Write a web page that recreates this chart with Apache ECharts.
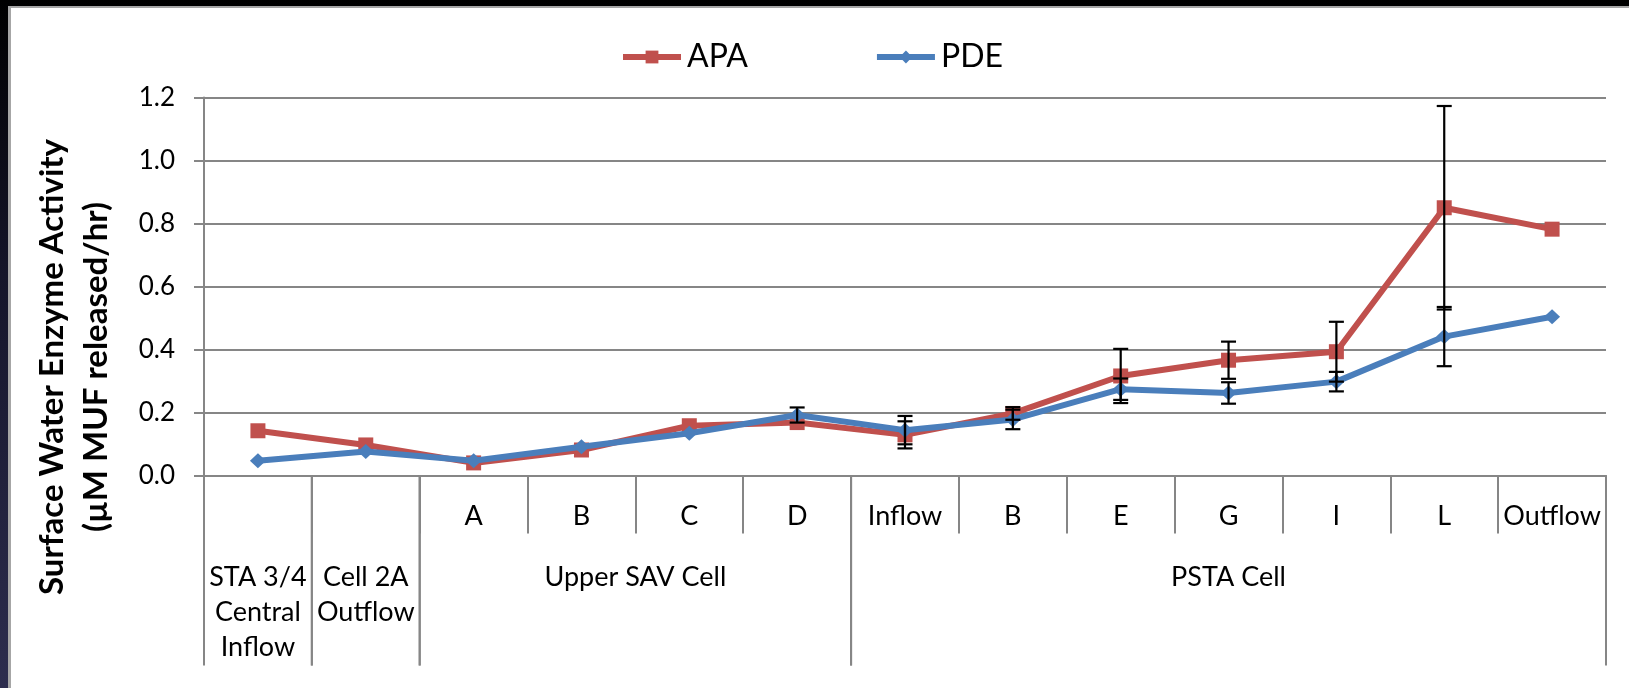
<!DOCTYPE html>
<html>
<head>
<meta charset="utf-8">
<script src="https://cdn.jsdelivr.net/npm/echarts@6/dist/echarts.min.js"></script>
<style>
  html, body { margin: 0; padding: 0; }
  body {
    width: 1629px; height: 688px; overflow: hidden; position: relative;
    background: linear-gradient(to bottom, #000000 0%, #15152a 40%, #2d2d4e 100%);
  }
  #chart {
    position: absolute; left: 8px; top: 6px;
    width: 1618px; height: 680px;
    background: #ffffff;
    border-left: 3px solid #a6a6a6;
    border-top: 2px solid #a6a6a6;
  }
</style>
</head>
<body>
<div id="chart"></div>
<script>
// Sampling sites along the flow path (first row of the axis table)
const categories = ['', '', 'A', 'B', 'C', 'D', 'Inflow', 'B', 'E', 'G', 'I', 'L', 'Outflow'];

// Second row of the axis table: group name and the first/last site index it spans
const groupNames = ['STA 3/4\nCentral\nInflow', 'Cell 2A\nOutflow', 'Upper SAV Cell', 'PSTA Cell'];
const groupStart = [0, 1, 2, 6];
const groupEnd = [0, 1, 5, 12];

// Enzyme activity (µM MUF released/hr)
const apa = [0.142, 0.097, 0.040, 0.081, 0.158, 0.168, 0.129, 0.197, 0.316, 0.366, 0.393, 0.850, 0.782];
const pde = [0.047, 0.076, 0.047, 0.091, 0.134, 0.192, 0.144, 0.178, 0.274, 0.262, 0.298, 0.441, 0.504];

// Standard error for each site (0 = no bar)
const apaErr = [0, 0, 0, 0, 0, 0, 0.043, 0.020, 0.086, 0.059, 0.095, 0.323, 0];
const pdeErr = [0, 0, 0, 0, 0, 0.024, 0.045, 0.031, 0.034, 0.034, 0.031, 0.094, 0];

const yMin = 0, yMax = 1.2, yStep = 0.2;

const FONT = 'Lato, "Liberation Sans", sans-serif';
const AXIS_GRAY = '#868686';
const RED = '#C0504D';
const BLUE = '#4A7EBB';

const chart = echarts.init(document.getElementById('chart'), null, { renderer: 'canvas' });

function errorBars(values, errs) {
  return function (params, api) {
    const i = api.value(0);
    const v = values[i], e = errs[i];
    if (!e) return null;
    const top = api.coord([i, v + e]);
    const bot = api.coord([i, v - e]);
    const cap = 7.5;
    const s = { stroke: '#000', lineWidth: 2.2 };
    return {
      type: 'group',
      children: [
        { type: 'line', shape: { x1: top[0], y1: top[1], x2: bot[0], y2: bot[1] }, style: s },
        { type: 'line', shape: { x1: top[0] - cap, y1: top[1], x2: top[0] + cap, y2: top[1] }, style: s },
        { type: 'line', shape: { x1: bot[0] - cap, y1: bot[1], x2: bot[0] + cap, y2: bot[1] }, style: s }
      ]
    };
  };
}

function groupTable(params, api) {
  const g = params.dataIndex;
  const s = groupStart[g], e = groupEnd[g];
  const bw = api.size([1, 0])[0];
  const p0 = api.coord([s, 0]);
  const p1 = api.coord([e, 0]);
  const x0 = p0[0] - bw / 2;
  const x1 = p1[0] + bw / 2;
  const y0 = p0[1];
  const depth = 190;
  const ls = { stroke: AXIS_GRAY, lineWidth: 2 };
  return {
    type: 'group',
    children: [
      { type: 'line', shape: { x1: x0, y1: y0, x2: x0, y2: y0 + depth }, style: ls },
      { type: 'line', shape: { x1: x1, y1: y0, x2: x1, y2: y0 + depth }, style: ls },
      {
        type: 'text',
        style: {
          text: groupNames[g], x: (x0 + x1) / 2, y: y0 + 84,
          align: 'center', verticalAlign: 'top',
          fontSize: 27, lineHeight: 35, fontFamily: FONT, fill: '#000'
        }
      }
    ]
  };
}

const idx = categories.map((c, i) => [i, 0]);

chart.setOption({
  animation: false,
  backgroundColor: '#ffffff',
  textStyle: { fontFamily: FONT },
  legend: {
    left: 604, top: 28,
    itemWidth: 58, itemHeight: 16, itemGap: 126,
    lineStyle: { width: 6 },
    textStyle: { fontSize: 32, color: '#000', fontFamily: FONT, padding: [0, 0, 0, 1] },
    data: ['APA', 'PDE']
  },
  grid: { left: 193, top: 89.5, right: 23, bottom: 212.5, containLabel: false },
  xAxis: {
    type: 'category',
    data: categories,
    boundaryGap: true,
    axisLine: { show: true, lineStyle: { color: AXIS_GRAY, width: 2 } },
    axisTick: { show: true, interval: 0, length: 58, lineStyle: { color: AXIS_GRAY, width: 2 } },
    axisLabel: { interval: 0, margin: 27, fontSize: 27, color: '#000', fontFamily: FONT },
    splitLine: { show: false }
  },
  yAxis: {
    type: 'value',
    min: yMin, max: yMax, interval: yStep,
    axisLine: { show: true, lineStyle: { color: AXIS_GRAY, width: 2 } },
    axisTick: { show: true, length: 10, lineStyle: { color: AXIS_GRAY, width: 2 } },
    axisLabel: { margin: 29, fontSize: 26, color: '#000', fontFamily: FONT, formatter: v => v.toFixed(1) },
    splitLine: { show: true, lineStyle: { color: AXIS_GRAY, width: 2 } }
  },
  graphic: [{
    type: 'text',
    x: 63, y: 359,
    rotation: Math.PI / 2,
    style: {
      text: 'Surface Water Enzyme Activity\n(µM MUF released/hr)',
      align: 'center', verticalAlign: 'middle',
      fontSize: 33, fontWeight: 'bold', lineHeight: 44,
      fontFamily: FONT, fill: '#000'
    }
  }],
  series: [
    {
      name: 'APA', type: 'line', data: apa,
      symbol: 'rect', symbolSize: 15,
      lineStyle: { color: RED, width: 6 },
      itemStyle: { color: RED },
      z: 3
    },
    {
      name: 'PDE', type: 'line', data: pde,
      symbol: 'diamond', symbolSize: [16, 15],
      lineStyle: { color: BLUE, width: 6 },
      itemStyle: { color: BLUE },
      z: 4
    },
    {
      name: 'APA error', type: 'custom', data: idx,
      renderItem: errorBars(apa, apaErr), z: 5, silent: true
    },
    {
      name: 'PDE error', type: 'custom', data: idx,
      renderItem: errorBars(pde, pdeErr), z: 5, silent: true
    },
    {
      name: 'groups', type: 'custom', data: groupStart.map(s => [s, 0]),
      renderItem: groupTable, clip: false, silent: true, z: 1
    }
  ]
});
</script>
</body>
</html>
